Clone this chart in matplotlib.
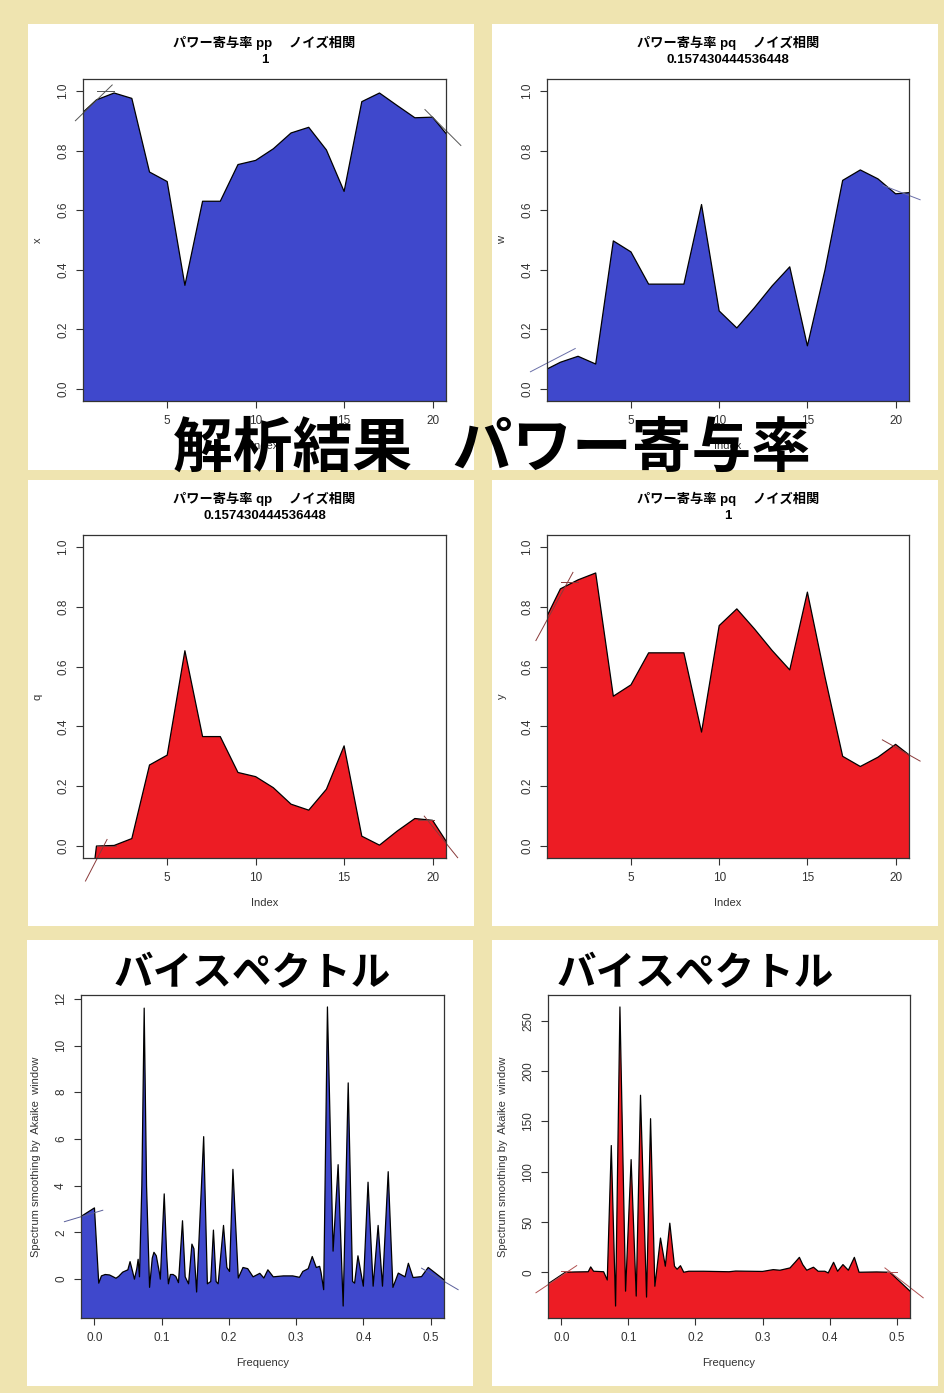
import numpy as np
import matplotlib
matplotlib.use("Agg")
import matplotlib.pyplot as plt
from matplotlib.patches import Rectangle

W, H = 944, 1393

# --- power contribution panels, index 0..21 (0 and 21 run past the frame) ---
index = list(range(0, 22))
pp_x = [0.915, 0.97, 0.993, 0.975, 0.728, 0.696, 0.348, 0.63, 0.63, 0.753, 0.767,
        0.806, 0.859, 0.878, 0.802, 0.663, 0.964, 0.993, 0.951, 0.91, 0.912, 0.84]
pq_w = [0.06, 0.09, 0.11, 0.084, 0.497, 0.46, 0.352, 0.352, 0.352, 0.619, 0.262,
        0.205, 0.273, 0.346, 0.41, 0.145, 0.40, 0.70, 0.735, 0.705, 0.655, 0.66]
qp_q = [-0.5, 0.0, 0.002, 0.025, 0.271, 0.304, 0.653, 0.366, 0.366, 0.246, 0.232,
        0.195, 0.14, 0.12, 0.19, 0.335, 0.033, 0.003, 0.05, 0.092, 0.086, -0.005]
pq_y = [0.74, 0.86, 0.89, 0.913, 0.501, 0.539, 0.646, 0.646, 0.646, 0.381, 0.737,
        0.793, 0.726, 0.654, 0.589, 0.849, 0.565, 0.30, 0.266, 0.297, 0.34, 0.294]

# --- bispectrum (Akaike window smoothing), first/last points run past the frame ---
bl_freq = [-0.03, 0.0, 0.0064, 0.0104, 0.016, 0.0224, 0.028, 0.032, 0.036, 0.042,
           0.0497, 0.053, 0.057, 0.0595, 0.063, 0.065, 0.067, 0.0705, 0.074, 0.0775,
           0.082, 0.086, 0.0885, 0.092, 0.0965, 0.098, 0.1038, 0.1075, 0.110, 0.113,
           0.117, 0.121, 0.125, 0.131, 0.135, 0.140, 0.145, 0.148, 0.152, 0.1625,
           0.168, 0.173, 0.177, 0.181, 0.184, 0.192, 0.197, 0.201, 0.206, 0.214,
           0.221, 0.228, 0.236, 0.246, 0.252, 0.258, 0.266, 0.281, 0.295, 0.305,
           0.31, 0.318, 0.324, 0.33, 0.335, 0.337, 0.341, 0.3466, 0.355, 0.3625,
           0.370, 0.3775, 0.384, 0.387, 0.392, 0.400, 0.407, 0.4146, 0.422, 0.4285,
           0.437, 0.444, 0.452, 0.457, 0.462, 0.467, 0.474, 0.4866, 0.4965, 0.53]
bl_spec = [2.5, 3.05, -0.17, 0.14, 0.2, 0.18, 0.1, 0.04, 0.12, 0.3,
           0.4, 0.75, 0.3, 0.0, 0.45, 0.85, 0.1, 4.0, 11.6, 4.0,
           -0.35, 0.9, 1.15, 1.0, 0.3, 0.0, 3.65, 1.0, -0.2, 0.2,
           0.2, 0.12, -0.15, 2.5, 0.1, -0.2, 1.5, 1.3, -0.55, 6.1,
           -0.2, -0.1, 2.1, -0.1, -0.2, 2.3, 0.5, 0.33, 4.7, 0.05,
           0.5, 0.45, 0.1, 0.25, 0.05, 0.4, 0.1, 0.14, 0.14, 0.08,
           0.33, 0.45, 0.97, 0.5, 0.55, 0.3, -0.45, 11.65, 1.2, 4.9,
           -1.15, 8.4, -0.1, -0.17, 1.0, -0.3, 4.15, -0.3, 2.3, -0.3,
           4.6, -0.35, 0.26, 0.18, 0.1, 0.68, 0.07, 0.11, 0.5, -0.25]

br_freq = [-0.03, 0.006, 0.02, 0.04, 0.0437, 0.048, 0.063, 0.0684, 0.0744, 0.0808,
           0.0873, 0.0957, 0.104, 0.1116, 0.118, 0.127, 0.133, 0.1394, 0.1478, 0.155,
           0.1617, 0.1687, 0.1726, 0.1776, 0.1825, 0.19, 0.212, 0.25, 0.26, 0.3,
           0.316, 0.326, 0.341, 0.349, 0.355, 0.36, 0.366, 0.376, 0.383, 0.393,
           0.398, 0.406, 0.412, 0.42, 0.428, 0.437, 0.444, 0.47, 0.49, 0.53]
br_spec = [-16, 0.0, 0.3, 0.5, 5.3, 1.0, 0.5, -7.7, 126, -33.6,
           263.8, -18.8, 112, -23.7, 176, -24.7, 152.7, -13.9, 34, 6,
           48.8, 6, 3, 6.5, 0, 1, 1, 0.5, 1.2, 0.8,
           2.6, 2.0, 4.3, 10.2, 14.8, 7.6, 2, 5, 1, 1,
           -0.7, 9.9, 1, 7.6, 2, 14.8, 0, 0.3, 0, -25]

# thin run-off strokes seen at the plot edges (x0, y0, x1, y1)
pp_strokes = [(-0.19, 0.90, 1.89, 1.02), (19.57, 0.9375, 21.6, 0.817), (1.04, 0.999, 1.98, 0.999)]
pq_w_strokes = [(-0.70, 0.058, 1.84, 0.136), (19.29, 0.683, 21.39, 0.635)]
qp_strokes = [(0.38, -0.117, 1.60, 0.022), (19.53, 0.10, 21.42, -0.039),
              (1.04, 0.0, 2.08, 0.0), (19.15, 0.086, 20.09, 0.086)]
pq_y_strokes = [(-0.39, 0.687, 1.71, 0.915), (1.02, 0.882, 2.0, 0.882), (19.25, 0.355, 21.39, 0.284)]
bl_strokes = [(-0.0447, 2.46, 0.0124, 2.95), (0.4866, 0.47, 0.541, -0.45)]
br_strokes = [(-0.038, -20.4, 0.0228, 6.6), (0.0, 1.0, 0.014, 1.0),
              (0.4826, 4.3, 0.5397, -25.4), (0.485, 0.0, 0.501, 0.0)]

BLUE = "#3F48CC"
RED = "#ED1C24"
BEIGE = "#EFE4B0"
INK = "#333333"

plt.rcParams["font.family"] = ["Liberation Sans", "Noto Sans CJK JP", "DejaVu Sans"]

fig = plt.figure(figsize=(W / 100, H / 100), dpi=100, facecolor=BEIGE)


def px_rect(x0, y0, x1, y1):
    return [x0 / W, 1 - y1 / H, (x1 - x0) / W, (y1 - y0) / H]


def r_range(vals):
    # same 4% padding R uses by default
    lo, hi = min(vals), max(vals)
    pad = 0.04 * (hi - lo)
    return lo - pad, hi + pad


# white panels
for box in [(28, 24, 474, 470), (492, 24, 938, 470),
            (28, 480, 474, 926), (492, 480, 938, 926),
            (27, 940, 473, 1386), (492, 940, 938, 1386)]:
    r = px_rect(*box)
    fig.patches.append(Rectangle((r[0], r[1]), r[2], r[3], transform=fig.transFigure,
                                 facecolor="white", edgecolor="none", zorder=-1))


def draw(box, xs, ys, color, xlim, ylim, xticks, xfmt, yticks, yfmt,
         xlabel, ylabel, strokes, stroke_color, title=None):
    ax = fig.add_axes(px_rect(*box))
    span = ylim[1] - ylim[0]
    ax.fill_between(xs, ys, ylim[0] - 10 * span, color=color, lw=0)
    ax.plot(xs, ys, color="black", lw=0.9)
    for x0, y0, x1, y1 in strokes:
        ax.plot([x0, x1], [y0, y1], color=stroke_color, lw=0.7, clip_on=False)
    ax.set_xlim(xlim)
    ax.set_ylim(ylim)
    ax.set_xticks(xticks)
    ax.set_xticklabels([xfmt.format(t) for t in xticks])
    ax.set_yticks(yticks)
    ax.set_yticklabels([yfmt.format(t) for t in yticks], rotation=90, va="center")
    ax.tick_params(direction="out", length=5, width=0.8, colors=INK,
                   labelsize=8.5, pad=5)
    for s in ax.spines.values():
        s.set_color(INK)
        s.set_linewidth(0.9)
    ax.set_xlabel(xlabel, fontsize=8, color=INK)
    ax.xaxis.set_label_coords(0.5, -0.125)
    ax.set_ylabel(ylabel, fontsize=8, color=INK, va="center")
    ax.yaxis.set_label_coords(-0.124, 0.5)
    if title:
        ax.text(0.5, 1.112, title[0], transform=ax.transAxes, ha="center", va="center",
                fontsize=9.5, fontweight="bold")
        ax.text(0.5, 1.060, title[1], transform=ax.transAxes, ha="center", va="center",
                fontsize=9.5, fontweight="bold")
    return ax


ix_lim = r_range(index[1:-1])
unit = (-0.04, 1.04)
yt = [0.0, 0.2, 0.4, 0.6, 0.8, 1.0]
xt = [5, 10, 15, 20]

draw((83, 79, 446, 401), index, pp_x, BLUE, ix_lim, unit, xt, "{}", yt, "{:.1f}",
     "Index", "x", pp_strokes, "#555555", ("パワー寄与率 pp　 ノイズ相関", "1"))
draw((547, 79, 909, 401), index, pq_w, BLUE, ix_lim, unit, xt, "{}", yt, "{:.1f}",
     "Index", "w", pq_w_strokes, "#6a6fa8", ("パワー寄与率 pq　 ノイズ相関", "0.157430444536448"))
draw((83, 535, 446, 858), index, qp_q, RED, ix_lim, unit, xt, "{}", yt, "{:.1f}",
     "Index", "q", qp_strokes, "#8a3a3a", ("パワー寄与率 qp　 ノイズ相関", "0.157430444536448"))
draw((547, 535, 909, 858), index, pq_y, RED, ix_lim, unit, xt, "{}", yt, "{:.1f}",
     "Index", "y", pq_y_strokes, "#8a3a3a", ("パワー寄与率 pq　 ノイズ相関", "1"))

fq_lim = r_range([0.0, 0.5])
ft = [0.0, 0.1, 0.2, 0.3, 0.4, 0.5]
ylab = "Spectrum smoothing by  Akaike  window"
draw((81, 995, 444, 1318), bl_freq, bl_spec, BLUE, fq_lim, r_range(bl_spec[1:-1]),
     ft, "{:.1f}", [0, 2, 4, 6, 8, 10, 12], "{}", "Frequency", ylab, bl_strokes, "#5a5f9a")
draw((548, 995, 910, 1318), br_freq, br_spec, RED, fq_lim, r_range(br_spec[1:-1]),
     ft, "{:.1f}", [0, 50, 100, 150, 200, 250], "{}", "Frequency", ylab, br_strokes, "#b05050")

# overlaid headings (the banner sits over the top panels' x labels, as in the original)
fig.text(492 / W, 1 - 450 / H, "解析結果   パワー寄与率", ha="center", va="center",
         fontsize=43, fontweight="bold", family=["Noto Sans CJK JP"], color="black")
fig.text(252 / W, 1 - 974 / H, "バイスペクトル", ha="center", va="center",
         fontsize=28.5, fontweight="bold", family=["Noto Sans CJK JP"], color="black")
fig.text(695 / W, 1 - 974 / H, "バイスペクトル", ha="center", va="center",
         fontsize=28.5, fontweight="bold", family=["Noto Sans CJK JP"], color="black")

fig.savefig("out.png", dpi=100, facecolor=BEIGE)
